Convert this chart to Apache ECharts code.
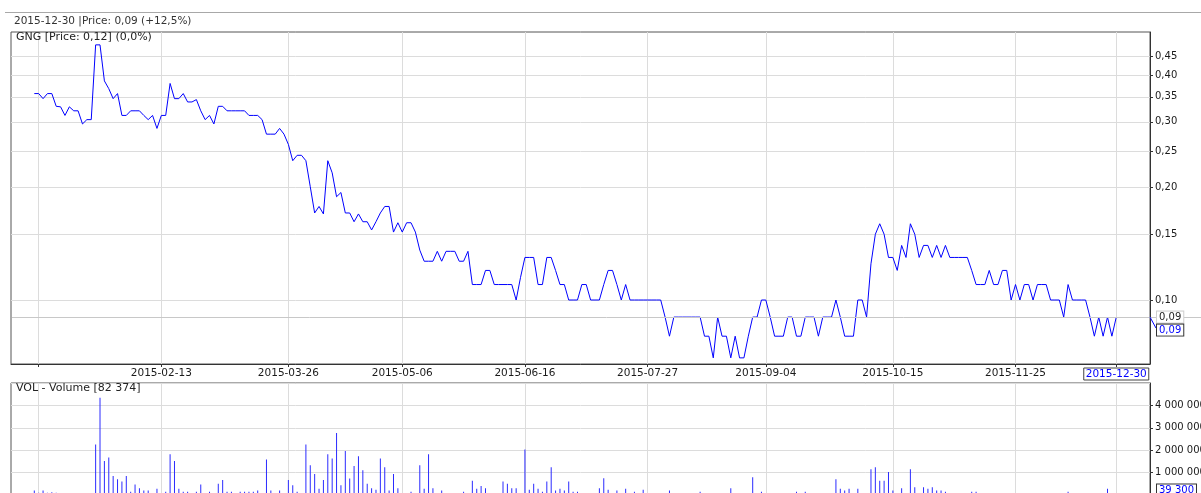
<!DOCTYPE html>
<html><head><meta charset="utf-8">
<script src="https://cdn.jsdelivr.net/npm/echarts@6/dist/echarts.min.js"></script>
<style>html,body{margin:0;padding:0;background:#fff}#c{width:1201px;height:493px}</style>
</head><body><div id="c"></div>
<script>
// ---- calendar (Warsaw trading days 2015) ----
const holidays = ['2015-01-01','2015-01-06','2015-04-03','2015-04-06','2015-05-01','2015-06-04','2015-11-11','2015-12-24','2015-12-25'];
const noTradeDays = ['2015-07-03','2015-08-14','2015-08-17'];
const tickDates = ['2015-01-05','2015-02-13','2015-03-26','2015-05-06','2015-06-16','2015-07-27','2015-09-04','2015-10-15','2015-11-25','2015-12-30'];
const labeledDates = ['2015-02-13','2015-03-26','2015-05-06','2015-06-16','2015-07-27','2015-09-04','2015-10-15','2015-11-25','2015-12-30'];
const priceTicks = [0.10,0.15,0.20,0.25,0.30,0.35,0.40,0.45];

// ---- closing prices (PLN), one per trading day ----
const price = [
0.357,0.357,0.346,0.357,0.357,0.330,0.329,0.312,0.329,0.321,
0.321,0.296,0.304,0.304,0.482,0.482,0.386,0.368,0.346,0.357,
0.312,0.312,0.321,0.321,0.321,0.312,0.304,0.312,0.288,0.312,
0.312,0.380,0.346,0.346,0.357,0.339,0.339,0.344,0.321,0.304,
0.312,0.296,0.330,0.330,0.321,0.321,0.321,0.321,0.321,0.312,
0.312,0.312,0.304,0.278,0.278,0.278,0.288,0.278,0.261,0.236,
0.244,0.244,0.236,0.201,0.171,0.178,0.170,0.236,0.219,0.189,
0.194,0.171,0.171,0.162,0.170,0.162,0.162,0.154,0.162,0.171,
0.178,0.178,0.152,0.161,0.152,0.161,0.161,0.152,0.136,0.127,
0.127,0.127,0.135,0.127,0.135,0.135,0.135,0.127,0.127,0.135,
0.11,0.11,0.11,0.12,0.12,0.11,0.11,0.11,0.11,0.11,
0.10,0.115,0.13,0.13,0.13,0.11,0.11,0.13,0.13,0.12,
0.11,0.11,0.10,0.10,0.10,0.11,0.11,0.10,0.10,0.10,
0.11,0.12,0.12,0.11,0.10,0.11,0.10,0.10,0.10,0.10,
0.10,0.10,0.10,0.10,0.09,0.08,0.09,0.09,0.09,0.09,
0.09,0.09,0.09,0.08,0.08,0.07,0.09,0.08,0.08,0.07,
0.08,0.07,0.07,0.08,0.09,0.09,0.10,0.10,0.09,0.08,
0.08,0.08,0.09,0.09,0.08,0.08,0.09,0.09,0.09,0.08,
0.09,0.09,0.09,0.10,0.09,0.08,0.08,0.08,0.10,0.10,
0.09,0.125,0.15,0.16,0.15,0.13,0.13,0.12,0.14,0.13,
0.16,0.15,0.13,0.14,0.14,0.13,0.14,0.13,0.14,0.13,
0.13,0.13,0.13,0.13,0.12,0.11,0.11,0.11,0.12,0.11,
0.11,0.12,0.12,0.10,0.11,0.10,0.11,0.11,0.10,0.11,
0.11,0.11,0.10,0.10,0.10,0.09,0.11,0.10,0.10,0.10,
0.10,0.09,0.08,0.09,0.08,0.09,0.08,0.09
];

// ---- volume (thousands of shares), one per trading day ----
const volumeK = [
200,100,200,100,120,100,0,0,0,0,
0,0,0,0,2260,4340,1520,1670,850,700,
600,850,150,470,300,200,200,0,280,0,
150,1820,1520,280,150,150,0,150,470,0,
150,0,500,670,150,150,0,150,150,150,
150,200,0,1580,200,0,200,0,670,430,
150,0,2260,1330,940,280,670,1820,1630,2770,
430,1960,740,1290,1730,1110,500,300,230,1630,
1240,200,940,300,0,0,150,0,1330,280,
1820,300,0,200,0,0,0,0,150,0,
640,280,400,300,0,0,0,600,500,300,
300,0,2030,230,500,280,150,600,1240,200,
280,200,600,150,150,0,0,0,0,300,
750,230,0,200,0,280,0,150,0,230,
0,0,0,0,0,200,0,0,0,0,
0,0,150,0,0,0,0,0,0,300,
0,0,0,0,790,0,150,0,0,0,
0,0,0,0,150,0,150,0,0,0,
0,0,0,700,280,200,280,0,280,0,
0,1150,1240,640,640,1030,200,0,300,0,
1150,350,0,350,280,350,200,200,150,0,
0,0,0,0,150,150,0,0,0,0,
0,0,0,0,0,0,0,0,0,0,
0,0,0,0,0,0,150,0,0,0,
0,0,0,0,0,280,0,39.3
];

const headerText = '2015-12-30 |Price: 0,09 (+12,5%)';
const priceTitle = 'GNG [Price: 0,12] (0,0%)';
const volTitle = 'VOL - Volume [82 374]';
const lastPriceLine = 0.09;

function buildDates() {
  const out = [];
  const d = new Date(Date.UTC(2015, 0, 2));
  const end = Date.UTC(2015, 11, 30);
  while (d.getTime() <= end) {
    const wd = d.getUTCDay();
    const s = d.toISOString().slice(0, 10);
    if (wd !== 0 && wd !== 6 && !holidays.includes(s) && !noTradeDays.includes(s)) out.push(s);
    d.setUTCDate(d.getUTCDate() + 1);
  }
  return out;
}
const dates = buildDates();
const tickIdx = tickDates.map(s => dates.indexOf(s)).filter(i => i >= 0);
const lastDate = dates[price.length - 1];

const FONT = 'DejaVu Sans';
const fmtPrice = v => Number(v).toFixed(2).replace('.', ',');
const fmtVol = v => String(Math.round(v)).replace(/\B(?=(\d{3})+(?!\d))/g, ' ');

const chart = echarts.init(document.getElementById('c'), null, {renderer: 'canvas'});
const xMin = -5.32, xMax = 254.7;
const gridStyle = {show: true, borderColor: '#555', borderWidth: 1, backgroundColor: 'transparent', containLabel: false, outerBoundsMode: 'none'};

chart.setOption({
  animation: false,
  grid: [
    Object.assign({left: 11, top: 32, width: 1139, height: 332}, gridStyle),
    Object.assign({left: 11, top: 383, width: 1139, height: 112}, gridStyle)
  ],
  xAxis: [
    {
      type: 'value', gridIndex: 0, min: xMin, max: xMax,
      axisLine: {show: true, onZero: false, lineStyle: {color: '#333'}},
      axisTick: {show: true, customValues: tickIdx, length: 3, lineStyle: {color: '#333'}},
      axisLabel: {
        customValues: tickIdx, margin: 4, color: '#1a1a1a', fontSize: 10.5, fontFamily: FONT,
        formatter: v => {
          const s = dates[Math.round(v)];
          if (!labeledDates.includes(s)) return '';
          return s === lastDate ? '{cur|' + s + '}' : s;
        },
        rich: {cur: {color: '#0000ff', borderColor: '#444', borderWidth: 1, padding: [1, 2, 0, 2], fontSize: 10.5, fontFamily: FONT}}
      },
      splitLine: {show: true, lineStyle: {color: '#dcdcdc', width: 1}}
    },
    {
      type: 'value', gridIndex: 1, min: xMin, max: xMax,
      axisLine: {show: false, onZero: false}, axisTick: {show: false, customValues: tickIdx},
      axisLabel: {show: false, customValues: tickIdx},
      splitLine: {show: true, lineStyle: {color: '#dcdcdc', width: 1}}
    }
  ],
  yAxis: [
    {
      type: 'log', logBase: 10, gridIndex: 0, position: 'right', min: 0.0674, max: 0.5218,
      axisLine: {show: true, onZero: false, lineStyle: {color: '#333'}},
      axisTick: {show: true, inside: false, length: 3, customValues: priceTicks, lineStyle: {color: '#333'}},
      axisLabel: {customValues: priceTicks, margin: 5, color: '#1a1a1a', fontSize: 10, fontFamily: FONT, formatter: fmtPrice},
      splitLine: {show: true, lineStyle: {color: '#dcdcdc', width: 1}},
      minorTick: {show: false}, minorSplitLine: {show: false}
    },
    {
      type: 'value', gridIndex: 1, position: 'right', min: 0, max: 5000000, interval: 1000000,
      axisLine: {show: true, onZero: false, lineStyle: {color: '#333'}},
      axisTick: {show: true, length: 3, lineStyle: {color: '#333'}},
      axisLabel: {margin: 5, color: '#1a1a1a', fontSize: 10, fontFamily: FONT, formatter: fmtVol, showMinLabel: false, showMaxLabel: false},
      splitLine: {show: true, lineStyle: {color: '#dcdcdc', width: 1}}
    }
  ],
  series: [
    {
      type: 'line', xAxisIndex: 0, yAxisIndex: 0, z: 3,
      data: price.map((v, i) => [i, v]),
      showSymbol: false, symbol: 'none',
      lineStyle: {color: '#0000ff', width: 1},
      emphasis: {disabled: true}
    },
    {
      type: 'bar', xAxisIndex: 1, yAxisIndex: 1, barWidth: 1,
      data: volumeK.map((v, i) => [i, v * 1000]),
      itemStyle: {color: '#2b2bff'},
      emphasis: {disabled: true}
    }
  ]
});

// overlays positioned through the chart's own scales
const y09 = chart.convertToPixel({yAxisIndex: 0}, lastPriceLine);
const yLast = chart.convertToPixel({yAxisIndex: 0}, price[price.length - 1]);
const yVolLast = chart.convertToPixel({yAxisIndex: 1}, volumeK[volumeK.length - 1] * 1000);
const xRight = chart.convertToPixel({xAxisIndex: 0}, xMax);

chart.setOption({
  graphic: [
    {type: 'line', z: 50, silent: true, shape: {x1: 5, y1: 12.5, x2: 1201, y2: 12.5}, style: {stroke: '#a8a8a8', lineWidth: 1}},
    {type: 'text', z: 50, left: 14, top: 16, style: {text: headerText, font: '10.5px "' + FONT + '"', fill: '#333'}},
    {type: 'text', z: 50, left: 16, top: 32, style: {text: priceTitle, font: '11px "' + FONT + '"', fill: '#222'}},
    {type: 'text', z: 50, left: 16, top: 383, style: {text: volTitle, font: '11px "' + FONT + '"', fill: '#222'}},
    {type: 'line', z: 60, silent: true, shape: {x1: 12, y1: Math.round(y09) + 0.5, x2: 1201, y2: Math.round(y09) + 0.5}, style: {stroke: '#c8c8c8', lineWidth: 1}},
    {type: 'line', z: 61, silent: true, shape: {x1: xRight, y1: y09, x2: xRight + 6, y2: yLast + 11}, style: {stroke: '#0000ff', lineWidth: 1}},
    {type: 'text', z: 62, x: xRight + 7, y: y09, style: {text: fmtPrice(lastPriceLine), font: '10px "' + FONT + '"', fill: '#222', verticalAlign: 'middle', backgroundColor: '#fff', borderColor: '#cfcfcf', borderWidth: 1, padding: [1, 2, 0, 2]}},
    {type: 'text', z: 62, x: xRight + 7, y: yLast + 13, style: {text: fmtPrice(price[price.length - 1]), font: '10px "' + FONT + '"', fill: '#0000ff', verticalAlign: 'middle', backgroundColor: '#fff', borderColor: '#333', borderWidth: 1, padding: [1, 2, 0, 2]}},
    {type: 'text', z: 62, x: xRight + 7, y: Math.min(yVolLast, 490), style: {text: fmtVol(volumeK[volumeK.length - 1] * 1000), font: '10px "' + FONT + '"', fill: '#0000ff', verticalAlign: 'middle', backgroundColor: '#fff', borderColor: '#333', borderWidth: 1, padding: [1, 2, 0, 2]}}
  ]
});
</script>
</body></html>
